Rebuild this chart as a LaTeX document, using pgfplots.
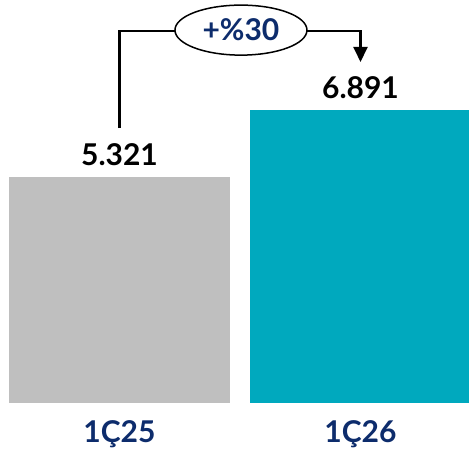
\documentclass[border=0pt]{standalone}
\usepackage{fontspec}
\setmainfont{Lato}
\usepackage{pgfplots}
\pgfplotsset{compat=1.18}
\usetikzlibrary{arrows.meta,shapes.geometric}

\definecolor{barGray}{HTML}{BFBFBF}
\definecolor{barTeal}{HTML}{00A9BE}
\definecolor{navy}{HTML}{0D2C6C}

\newcommand{\bigfont}{\fontsize{30}{35}\selectfont\bfseries}

\begin{document}
\begin{tikzpicture}
\begin{axis}[
    scale only axis,
    width=469pt, height=403pt,
    xmin=-0.4959, xmax=1.4502,
    ymin=0, ymax=9.489,
    axis line style={draw=none},
    major tick length=0pt,
    ytick=\empty,
    xtick={0,1},
    xticklabels={1Ç25,1Ç26},
    xticklabel style={anchor=base, yshift=-39pt, text=navy, font=\bigfont},
    ybar, bar width=221pt,
    bar shift=0pt,
    nodes near coords,
    point meta=explicit symbolic,
    every node near coord/.append style={anchor=base, yshift=12pt, text=black, font=\bigfont},
]
\addplot[draw=none, fill=barGray] coordinates {(0,5.321) [5.321]};
\addplot[draw=none, fill=barTeal] coordinates {(1,6.891) [6.891]};

\draw[line width=2.2pt, -{Triangle[length=15pt,width=14pt]}]
    (axis cs:0,6.475) |- (axis cs:1,8.75) -- (axis cs:1,8.03);
\node[draw, ellipse, line width=1.5pt, fill=white, minimum width=132pt,
      minimum height=50pt, inner sep=0pt, text=navy, font=\bigfont]
    at (axis cs:0.504,8.78) {+\%30};
\end{axis}
\pgfresetboundingbox
\path[use as bounding box] (0pt,-48pt) rectangle (469pt,403pt);
\end{tikzpicture}
\end{document}
